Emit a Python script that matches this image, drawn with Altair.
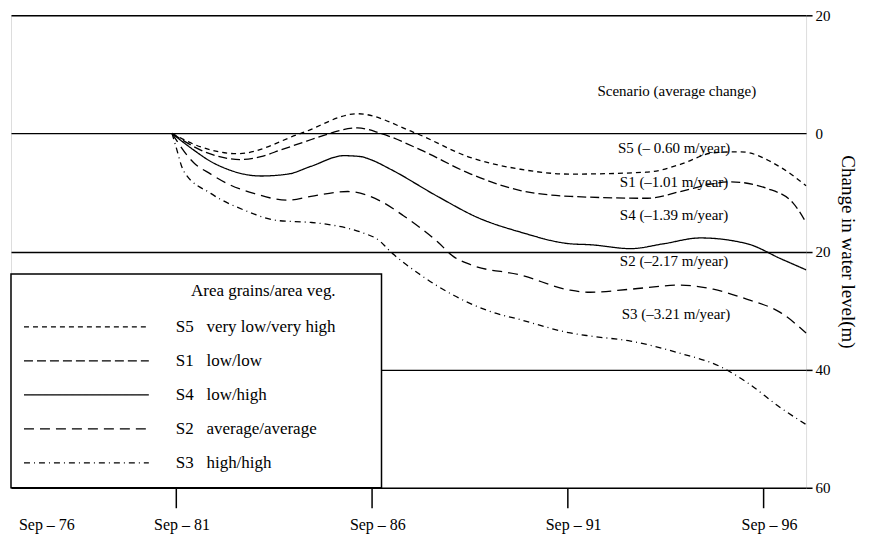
import altair as alt
import pandas as pd

NB = "\u00a0"
FONT = "Liberation Serif"

series_keys = ["S5", "S1", "S4", "S2", "S3"]
series_desc = ["very low/very high", "low/low", "low/high", "average/average", "high/high"]
series_labels = [k + NB * 3 + d for k, d in zip(series_keys, series_desc)]

s5_years = [1981.58, 1982.32, 1983.26, 1984.87, 1986.32, 1987.75, 1989.21, 1990.48,
            1991.75, 1993.72, 1994.56, 1995.40, 1996.09, 1997.12, 1997.77]
s5_vals = [0.0, -2.30, -3.44, 0.0, 3.33, 0.19, -4.10, -6.07,
           -6.89, -6.56, -5.25, -3.28, -3.11, -5.74, -8.85]

s1_years = [1981.58, 1982.45, 1983.33, 1983.85, 1984.36, 1984.87, 1985.30, 1986.32,
            1986.91, 1987.93, 1989.21, 1990.48, 1991.75, 1993.72, 1994.56, 1995.40,
            1995.84, 1996.78, 1997.44, 1997.77]
s1_vals = [0.0, -3.2, -4.43, -3.93, -2.79, -1.64, -0.66, 0.93,
           0.0, -2.79, -6.89, -9.67, -10.66, -10.98, -9.84, -8.52,
           -8.20, -9.34, -11.80, -15.08]

s4_years = [1981.58, 1982.13, 1982.57, 1983.00, 1983.41, 1983.85, 1984.54, 1985.13,
            1985.97, 1986.40, 1986.65, 1987.16, 1988.36, 1989.39, 1990.48, 1991.75,
            1992.26, 1993.29, 1994.13, 1995.07, 1996.27, 1997.12, 1997.77]
s4_vals = [0.0, -2.79, -4.75, -6.07, -6.89, -7.21, -6.89, -5.57,
           -3.77, -3.93, -4.43, -6.07, -10.66, -14.26, -16.72, -18.69,
           -18.85, -19.51, -18.69, -17.70, -18.69, -21.21, -23.10]

s2_years = [1981.58, 1982.13, 1982.57, 1983.00, 1983.67, 1984.54, 1985.13, 1986.07,
            1986.58, 1986.91, 1987.49, 1988.36, 1988.77, 1989.21, 1990.48, 1991.75,
            1992.26, 1993.29, 1994.56, 1995.40, 1996.27, 1997.12, 1997.77]
s2_vals = [0.0, -4.92, -6.89, -8.52, -10.16, -11.31, -10.66, -9.84,
           -10.49, -11.48, -13.93, -18.36, -20.86, -22.24, -23.97, -26.55,
           -26.90, -26.38, -25.69, -26.38, -28.10, -30.34, -33.79]

s3_years = [1981.58, 1981.67, 1981.88, 1982.57, 1983.41, 1984.28, 1985.13, 1985.71,
            1986.40, 1986.91, 1987.08, 1987.93, 1988.77, 1989.64, 1990.48, 1991.75,
            1992.26, 1993.29, 1994.56, 1995.58, 1996.27, 1997.12, 1997.77]
s3_vals = [0.0, -1.97, -6.39, -10.16, -12.95, -14.75, -15.08, -15.57,
           -16.72, -18.36, -19.51, -23.97, -27.41, -30.0, -31.55, -33.79,
           -34.31, -35.17, -37.24, -39.48, -42.20, -46.46, -49.29]

series_years = [s5_years, s1_years, s4_years, s2_years, s3_years]
series_vals = [s5_vals, s1_vals, s4_vals, s2_vals, s3_vals]

# annotations on the right
note_texts = ["Scenario (average change)", "S5 (\u2013 0.60 m/year)", "S1 (\u20131.01 m/year)",
              "S4 (\u20131.39 m/year)", "S2 (\u20132.17 m/year)", "S3 (\u20133.21 m/year)"]
note_years = [1994.47, 1994.40, 1994.40, 1994.40, 1994.40, 1994.45]
note_levels = [7.2, -2.46, -8.2, -13.77, -21.6, -30.6]

# legend panel extent (data units)
box_year = [1977.47, 1986.93]
box_level = [-60, -23.8]

x_domain = [1977.47, 1997.77]
y_domain = [-60, 20]
x_ticks = [1978.22, 1981.67, 1986.67, 1991.67, 1996.67]
y_ticks = [20, 0, -20, -40, -60]

dash_range = [[5, 4], [9, 4], [1, 0], [10, 6], [6, 4, 1, 4]]

rows = []
for lab, yrs, vals in zip(series_labels, series_years, series_vals):
    for t, v in zip(yrs, vals):
        rows.append({"series": lab, "year": t, "level": v})
df = pd.DataFrame(rows)

notes = pd.DataFrame({"year": note_years, "level": note_levels, "text": note_texts})
box = pd.DataFrame({"year": [box_year[0]], "year2": [box_year[1]],
                    "level": [box_level[0]], "level2": [box_level[1]]})

x_enc = alt.X(
    "year:Q",
    scale=alt.Scale(domain=x_domain, nice=False, zero=False),
    axis=alt.Axis(
        values=x_ticks,
        labelExpr="datum.value < 1980 ? 'Sep \u2013 76' : 'Sep \u2013 ' + (floor(datum.value) % 100)",
        tickColor={"condition": {"test": "datum.value < 1980", "value": "transparent"}, "value": "black"},
        tickSize=20, tickWidth=1.5, labelPadding=9, labelOffset=6,
        labelFont=FONT, labelFontSize=16, labelColor="black",
        labelFlush=False, labelOverlap=False,
        domain=False, grid=False, title=None,
    ),
)
y_enc = alt.Y(
    "level:Q",
    scale=alt.Scale(domain=y_domain, nice=False, zero=False),
    axis=alt.Axis(
        orient="right", values=y_ticks,
        labelExpr="format(abs(datum.value), 'd')",
        tickColor={"condition": {"test": "datum.value == 0", "value": "transparent"}, "value": "black"},
        tickSize=6, tickWidth=1.5, labelPadding=3,
        labelFont=FONT, labelFontSize=15, labelColor="black",
        grid=True, gridColor="black", gridWidth=1.4,
        domain=False,
        title="Change in water level(m)", titleAngle=90, titleFont=FONT,
        titleFontSize=19, titleFontWeight="normal", titleColor="black", titlePadding=7,
    ),
)

box_layer = alt.Chart(box).mark_rect(fill="white", stroke="black", strokeWidth=1.5).encode(
    x=x_enc, x2="year2:Q", y=y_enc, y2="level2:Q"
)

lines = alt.Chart(df).mark_line(color="black", strokeWidth=1.3, interpolate="monotone").encode(
    x=x_enc,
    y=y_enc,
    strokeDash=alt.StrokeDash(
        "series:N",
        scale=alt.Scale(domain=series_labels, range=dash_range),
        legend=alt.Legend(
            orient="none", legendX=12, legendY=268, padding=0,
            title="Area grains/area veg.", titleFont=FONT, titleFontSize=17,
            titleFontWeight="normal", titleColor="black", titleAnchor="end", titlePadding=17,
            labelFont=FONT, labelFontSize=17, labelColor="black", labelLimit=300, labelOffset=26,
            symbolType="stroke", symbolSize=15625, symbolStrokeWidth=1.3,
            symbolStrokeColor="black", clipHeight=20, rowPadding=14,
        ),
    ),
)

texts = alt.Chart(notes).mark_text(font=FONT, fontSize=15, color="black", align="center",
                                   baseline="middle").encode(
    x=x_enc, y=y_enc, text="text:N"
)

chart = alt.layer(box_layer, lines, texts).properties(
    width=796, height=473,
    padding={"left": 2, "top": 0, "right": 5, "bottom": 2},
).configure_view(stroke="black", strokeWidth=1.5).configure(background="white")

chart.save("out.html", embed_options={"renderer": "svg", "actions": False})
